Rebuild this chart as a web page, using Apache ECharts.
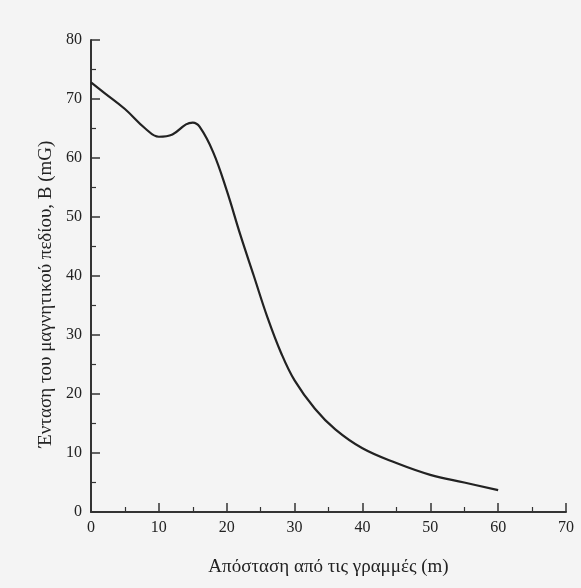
<!DOCTYPE html>
<html>
<head>
<meta charset="utf-8">
<script src="https://cdn.jsdelivr.net/npm/echarts@6/dist/echarts.min.js"></script>
<style>
  html, body { margin: 0; padding: 0; background: #f4f4f4; }
  #chart { width: 581px; height: 588px; }
</style>
</head>
<body>
<div id="chart"></div>
<script>
// 距离 (m) 与磁场强度 B (mG)
var distance = [0, 2, 5, 8, 10, 12, 14, 15, 16, 18, 20, 22, 24, 26, 28, 30, 33, 36, 40, 45, 50, 55, 60];
var fieldB = [72.8, 71, 68.3, 65, 63.6, 64, 65.7, 66, 65.3, 61, 54.5, 47, 40, 33, 27, 22.3, 17.5, 14, 10.8, 8.3, 6.3, 5, 3.7];
var xTicks = [0, 10, 20, 30, 40, 50, 60, 70];
var yTicks = [0, 10, 20, 30, 40, 50, 60, 70, 80];

(function () {
  var myChart = echarts.init(document.getElementById("chart"));
  var points = distance.map(function (d, i) { return [d, fieldB[i]]; });
  var font = "'Liberation Serif', 'DejaVu Serif', serif";

  var option = {
    backgroundColor: "#f4f4f4",
    animation: false,
    grid: { left: 91, right: 15, top: 40, bottom: 76 },
    xAxis: {
      type: "value",
      min: xTicks[0],
      max: xTicks[xTicks.length - 1],
      interval: 10,
      name: "Απόσταση από τις γραμμές (m)",
      nameLocation: "middle",
      nameGap: 46,
      nameTextStyle: { fontFamily: font, fontSize: 19, color: "#222" },
      axisLine: { show: true, onZero: false, lineStyle: { color: "#333", width: 2 } },
      axisTick: { show: true, inside: true, length: 9, lineStyle: { color: "#333", width: 1.5 } },
      minorTick: { show: true, splitNumber: 2, length: 5, lineStyle: { color: "#333", width: 1.2 } },
      splitLine: { show: false },
      axisLabel: { fontFamily: font, fontSize: 16, color: "#222", margin: 8 },
    },
    yAxis: {
      type: "value",
      min: yTicks[0],
      max: yTicks[yTicks.length - 1],
      interval: 10,
      name: "Ένταση του μαγνητικού πεδίου, B (mG)",
      nameLocation: "middle",
      nameGap: 35,
      nameTextStyle: { fontFamily: font, fontSize: 19, color: "#222", padding: [0, 36, 0, 0] },
      axisLine: { show: true, lineStyle: { color: "#333", width: 2 } },
      axisTick: { show: true, inside: true, length: 9, lineStyle: { color: "#333", width: 1.5 } },
      minorTick: { show: true, splitNumber: 2, length: 5, lineStyle: { color: "#333", width: 1.2 } },
      splitLine: { show: false },
      axisLabel: { fontFamily: font, fontSize: 16, color: "#222", margin: 9 },
    },
    series: [
      {
        type: "line",
        data: points,
        smooth: 0.4,
        showSymbol: false,
        lineStyle: { color: "#222", width: 2.2 },
      },
    ],
  };

  myChart.setOption(option);
  window.addEventListener("resize", function () {
    myChart.resize();
  });
})();
</script>
</body>
</html>
